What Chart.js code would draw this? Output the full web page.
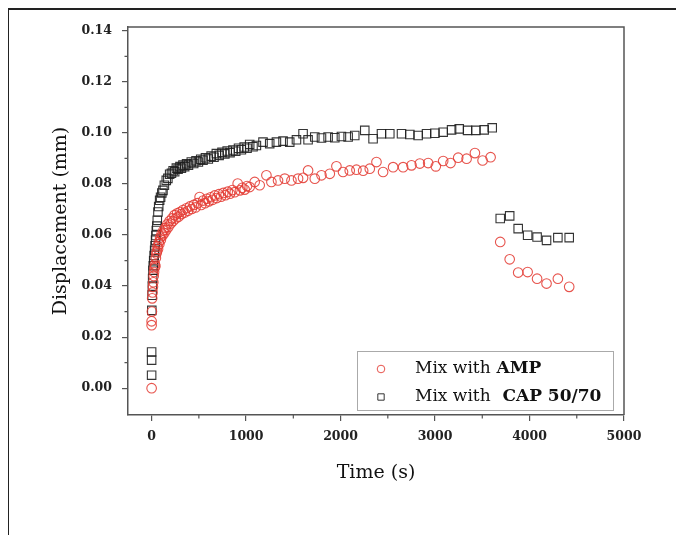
<!DOCTYPE html>
<html>
<head>
<meta charset="utf-8" />
<title>Displacement vs Time</title>
<script src="https://cdn.jsdelivr.net/npm/chart.js@4.4.1/dist/chart.umd.min.js"></script>
<style>
    html, body { margin: 0; padding: 0; background: #fff; }
    #wrap { position: relative; width: 676px; height: 535px; overflow: hidden; }
    #frame { position: absolute; left: 8px; top: 8px; width: 720px; height: 600px;
             border-top: 2px solid #222; border-left: 1.5px solid #222; }
    #cht { position: absolute; left: 0; top: 0; }
</style>
</head>
<body>
<div id="wrap">
    <canvas id="cht" width="676" height="535"></canvas>
    <div id="frame"></div>
</div>

<script>
// axis ticks
const xTickValues = [0, 1000, 2000, 3000, 4000, 5000];
const xMinorTicks = [500, 1500, 2500, 3500, 4500];
const yTickValues = [0, 0.02, 0.04, 0.06, 0.08, 0.10, 0.12, 0.14];
const yMinorTicks = [0.01, 0.03, 0.05, 0.07, 0.09, 0.11, 0.13];

// Mix with AMP (red circles)
const ampTime = [0, 0, 0, 3, 6, 10, 14, 18, 22, 26, 30, 35, 40, 45, 50, 56, 62, 68, 75, 82,
    90, 98, 106, 115, 125, 135, 145, 155, 166, 178, 190, 202, 215, 228, 242, 256, 270, 285, 300, 315,
    332, 350, 368, 386, 405, 425, 445, 465, 485, 508, 525, 545, 565, 585, 605, 625, 646, 668, 690, 712,
    735, 758, 782, 806, 830, 855, 880, 911, 935, 960, 985, 1010, 1038, 1091, 1144, 1215, 1268, 1338, 1409, 1480,
    1550, 1603, 1656, 1727, 1798, 1886, 1956, 2026, 2097, 2168, 2239, 2309, 2380, 2450, 2556, 2662, 2751, 2839, 2927, 3008,
    3086, 3164, 3245, 3334, 3422, 3503, 3588, 3690, 3790, 3880, 3980, 4080, 4180, 4300, 4420];
const ampDisp = [0.000, 0.0247, 0.0262, 0.030, 0.0352, 0.0375, 0.0397, 0.0415, 0.044, 0.0455, 0.047, 0.0485, 0.0478, 0.051, 0.0528, 0.0535, 0.0555, 0.0545, 0.0572, 0.0565,
    0.059, 0.0582, 0.0605, 0.0598, 0.0618, 0.0608, 0.0628, 0.062, 0.0642, 0.0632, 0.0655, 0.0645, 0.0665, 0.0655, 0.0678, 0.0665, 0.0685, 0.0672, 0.069, 0.0682,
    0.0698, 0.0688, 0.0705, 0.0695, 0.0712, 0.0702, 0.0718, 0.0708, 0.0725, 0.0749, 0.0718, 0.0735, 0.0725, 0.0742, 0.0732, 0.0748, 0.0738, 0.0755, 0.0745, 0.076,
    0.075, 0.0765, 0.0756, 0.077, 0.0762, 0.0776, 0.0768, 0.0802, 0.0775, 0.0785, 0.0778, 0.0792, 0.0788, 0.0808, 0.0795, 0.0834, 0.0808, 0.0814, 0.0821, 0.0814,
    0.0821, 0.0824, 0.0853, 0.0821, 0.0834, 0.084, 0.0869, 0.0847, 0.0853, 0.0856, 0.0852, 0.086, 0.0886, 0.0847, 0.0866, 0.0866, 0.0873, 0.088, 0.0882, 0.0869,
    0.089, 0.0882, 0.0903, 0.0899, 0.0921, 0.0892, 0.0905, 0.0573, 0.0505, 0.0453, 0.0455, 0.0429, 0.041, 0.0429, 0.0397];

// Mix with CAP 50/70 (black squares)
const capTime = [0, 0, 0, 2, 5, 8, 11, 14, 18, 22, 27, 32, 37, 42, 46, 50, 55, 60, 67, 75,
    85, 95, 108, 120, 135, 155, 172, 191, 210, 228, 244, 262, 280, 300, 315, 332, 350, 370, 390, 420,
    445, 470, 495, 520, 544, 570, 600, 630, 660, 685, 715, 745, 775, 800, 830, 861, 890, 920, 950, 980,
    1010, 1038, 1073, 1109, 1179, 1250, 1321, 1391, 1462, 1533, 1603, 1656, 1727, 1798, 1868, 1939, 2009, 2080, 2150, 2256,
    2344, 2433, 2521, 2645, 2733, 2821, 2910, 2998, 3086, 3175, 3256, 3344, 3432, 3520, 3605, 3690, 3790, 3880, 3980, 4080,
    4180, 4300, 4420];
const capDisp = [0.0051, 0.011, 0.0142, 0.0305, 0.0364, 0.040, 0.043, 0.0462, 0.048, 0.050, 0.052, 0.054, 0.0558, 0.058, 0.0598, 0.0618, 0.0635, 0.0658, 0.069, 0.0712,
    0.0736, 0.0748, 0.0765, 0.0775, 0.0795, 0.0814, 0.0822, 0.0838, 0.0842, 0.0852, 0.0848, 0.0862, 0.0858, 0.0868, 0.0862, 0.0874, 0.0868, 0.0879, 0.0874, 0.0886,
    0.088, 0.0891, 0.0886, 0.0897, 0.0893, 0.0903, 0.0898, 0.0909, 0.0905, 0.0919, 0.0912, 0.0924, 0.0918, 0.0929, 0.0923, 0.0933, 0.0928, 0.094, 0.0934, 0.0945,
    0.094, 0.0955, 0.0946, 0.0951, 0.0964, 0.0958, 0.0964, 0.0968, 0.0964, 0.0973, 0.0997, 0.0973, 0.0984, 0.098, 0.0984, 0.0981, 0.0986, 0.0984, 0.099, 0.101,
    0.0977, 0.0997, 0.0997, 0.0997, 0.0994, 0.099, 0.0997, 0.0999, 0.1003, 0.1012, 0.1016, 0.101, 0.101, 0.1012, 0.102, 0.0665, 0.0675, 0.0625, 0.0599, 0.0592,
    0.0579, 0.059, 0.059];

const serif = '"DejaVu Serif", "Liberation Serif", serif';

// top/right frame and minor ticks
const frameAndMinor = {
    id: 'frameAndMinor',
    afterDraw(chart) {
        const { ctx, chartArea: a, scales: { x, y } } = chart;
        ctx.save();
        ctx.strokeStyle = '#555';
        ctx.lineWidth = 1.5;
        ctx.beginPath();
        ctx.moveTo(a.left, a.top);
        ctx.lineTo(a.right, a.top);
        ctx.lineTo(a.right, a.bottom);
        ctx.stroke();
        ctx.lineWidth = 1.2;
        ctx.beginPath();
        xMinorTicks.forEach(v => {
            const px = x.getPixelForValue(v);
            ctx.moveTo(px, a.bottom);
            ctx.lineTo(px, a.bottom + 3.5);
        });
        yMinorTicks.forEach(v => {
            const py = y.getPixelForValue(v);
            ctx.moveTo(a.left, py);
            ctx.lineTo(a.left - 3.5, py);
        });
        ctx.stroke();
        ctx.restore();
    }
};

// legend box inside the plot, label tail in bold
const boxLegend = {
    id: 'boxLegend',
    afterDraw(chart) {
        const { ctx, chartArea: a } = chart;
        const w = 256, h = 59;
        const bx = a.right - 11 - w, by = a.bottom - 5 - h;
        ctx.save();
        ctx.fillStyle = '#fff';
        ctx.strokeStyle = '#aaa';
        ctx.lineWidth = 1;
        ctx.fillRect(bx, by, w, h);
        ctx.strokeRect(bx + 0.5, by + 0.5, w, h);
        chart.data.datasets.forEach((ds, i) => {
            const cy = by + 18 + i * 28;
            ctx.strokeStyle = ds.borderColor;
            ctx.fillStyle = 'rgba(0,0,0,0)';
            ctx.lineWidth = 1;
            Chart.helpers.drawPoint(ctx, { pointStyle: ds.pointStyle, radius: ds.pointStyle === 'rect' ? 4.5 : 3.8, borderWidth: 1, rotation: 0 }, bx + 24, cy);
            const pre = ds.label.slice(0, 8), rest = ds.label.slice(8);
            ctx.fillStyle = '#111';
            ctx.textBaseline = 'middle';
            ctx.font = '17px ' + serif;
            ctx.fillText(pre, bx + 58, cy);
            const px = bx + 58 + ctx.measureText(pre).width;
            ctx.font = 'bold 17px ' + serif;
            ctx.fillText(rest, px, cy);
        });
        ctx.restore();
    }
};

const ctx = document.getElementById('cht').getContext('2d');
new Chart(ctx, {
    type: 'scatter',
    data: {
        datasets: [{
            label: 'Mix with AMP',
            data: ampTime.map((t, i) => ({ x: t, y: ampDisp[i] })),
            pointStyle: 'circle',
            pointRadius: 4.8,
            borderWidth: 1.1,
            borderColor: 'rgba(228, 60, 52, 0.88)',
            backgroundColor: 'rgba(0,0,0,0)'
        }, {
            label: 'Mix with  CAP 50/70',
            data: capTime.map((t, i) => ({ x: t, y: capDisp[i] })),
            pointStyle: 'rect',
            pointRadius: 6,
            borderWidth: 1.1,
            borderColor: 'rgba(30, 30, 30, 0.9)',
            backgroundColor: 'rgba(0,0,0,0)'
        }]
    },
    options: {
        responsive: false,
        animation: false,
        layout: { padding: { top: 27, right: 52, left: 0, bottom: 0 } },
        plugins: {
            legend: { display: false },
            tooltip: { enabled: false }
        },
        scales: {
            x: {
                type: 'linear',
                min: -250,
                max: 5000,
                afterBuildTicks: s => { s.ticks = xTickValues.map(v => ({ value: v })); },
                afterFit: s => { s.height = 120; },
                grid: { drawOnChartArea: false, drawTicks: true, tickLength: 6, color: '#555', lineWidth: 1.2 },
                border: { display: true, color: '#555', width: 1.5 },
                ticks: {
                    padding: 8,
                    color: '#222',
                    font: { family: serif, size: 12.5, weight: 'bold' },
                    callback: v => String(v)
                },
                title: {
                    display: true,
                    text: 'Time (s)',
                    color: '#111',
                    font: { family: serif, size: 19 },
                    padding: { top: 0, bottom: 51 }
                }
            },
            y: {
                type: 'linear',
                min: -0.0105,
                max: 0.1415,
                afterBuildTicks: s => { s.ticks = yTickValues.map(v => ({ value: v })); },
                afterFit: s => { s.width = 128; },
                grid: { drawOnChartArea: false, drawTicks: true, tickLength: 6, color: '#555', lineWidth: 1.2 },
                border: { display: true, color: '#555', width: 1.5 },
                ticks: {
                    padding: 10,
                    color: '#222',
                    font: { family: serif, size: 12.5, weight: 'bold' },
                    callback: v => v.toFixed(2)
                },
                title: {
                    display: true,
                    text: 'Displacement (mm)',
                    color: '#111',
                    font: { family: serif, size: 19 },
                    padding: { top: 50, bottom: 0 }
                }
            }
        }
    },
    plugins: [frameAndMinor, boxLegend]
});
</script>
</body>
</html>
